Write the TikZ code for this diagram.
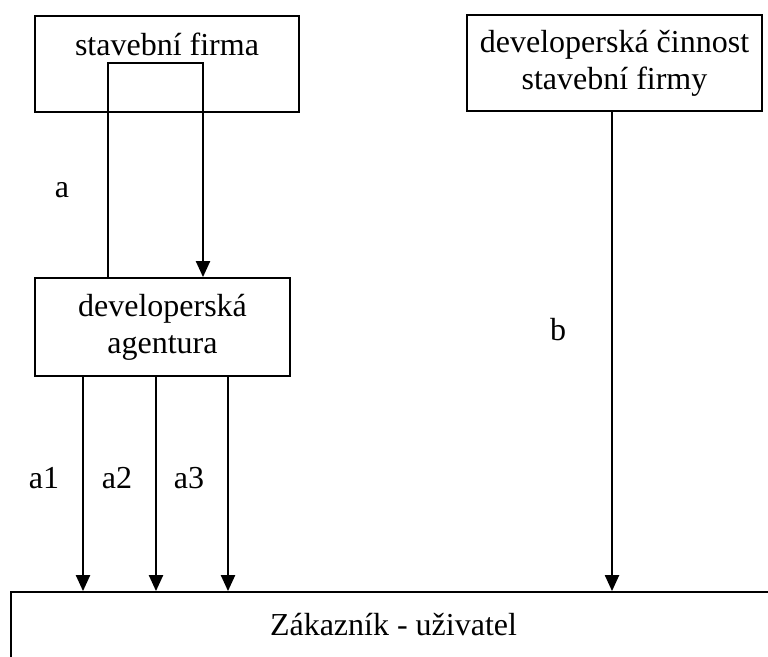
\documentclass[tikz,border=0pt]{standalone}
\usepackage{fontspec}
\setmainfont{Liberation Serif}
\usetikzlibrary{positioning}
\usetikzlibrary{calc}
\usetikzlibrary{arrows.meta}
\tikzset{ %Boites et fleches
    boite/.style={draw,line width=0.7pt,align=center,inner sep=0pt,font=\fontsize{12}{13.9}\selectfont},
    fleche/.style={line width=0.7pt,-{Triangle[length=6pt,width=5.3pt]}},
    lettre/.style={font=\fontsize{12}{13.9}\selectfont}
}

\begin{document}
\begin{tikzpicture}[x=0.375pt,y=-0.375pt]
            \clip (0,0) rectangle (768,657);
            \node[boite,anchor=north,minimum width=99pt,text height=10pt,inner ysep=5pt,text depth=16pt] (firma) at (167,15) {stavební firma};
            \node[boite,minimum width=110.6pt,minimum height=36pt] (cinnost) at (614.5,63) {developerská činnost\\stavební firmy};
            \node[boite,minimum width=95.6pt,minimum height=36.75pt] (agentura) at (162.5,327) {developerská\\agentura};
            \node[boite,minimum width=286.9pt,minimum height=24.75pt] (zakaznik) at (393.5,625) {Zákazník - uživatel};
            \coordinate (lg) at (108,63);
            \coordinate (ld) at (203,63);
            \draw[fleche] (lg |- agentura.north) -- (lg) -- (ld) -- (ld |- agentura.north);
            \draw[fleche] (cinnost.south -| 612,0) -- (zakaznik.north -| 612,0);
            \foreach \x in {83,156,228}
                \draw[fleche] (agentura.south -| \x,0) -- (zakaznik.north -| \x,0);
            \node[lettre] (a) at (62,190) {a};
            \node[lettre] (b) at (558,330) {b};
            \node[lettre] (a1) at (44,478) {a1};
            \node[lettre] (a2) at (117,478) {a2};
            \node[lettre] (a3) at (189,478) {a3};
        \end{tikzpicture}
\end{document}
